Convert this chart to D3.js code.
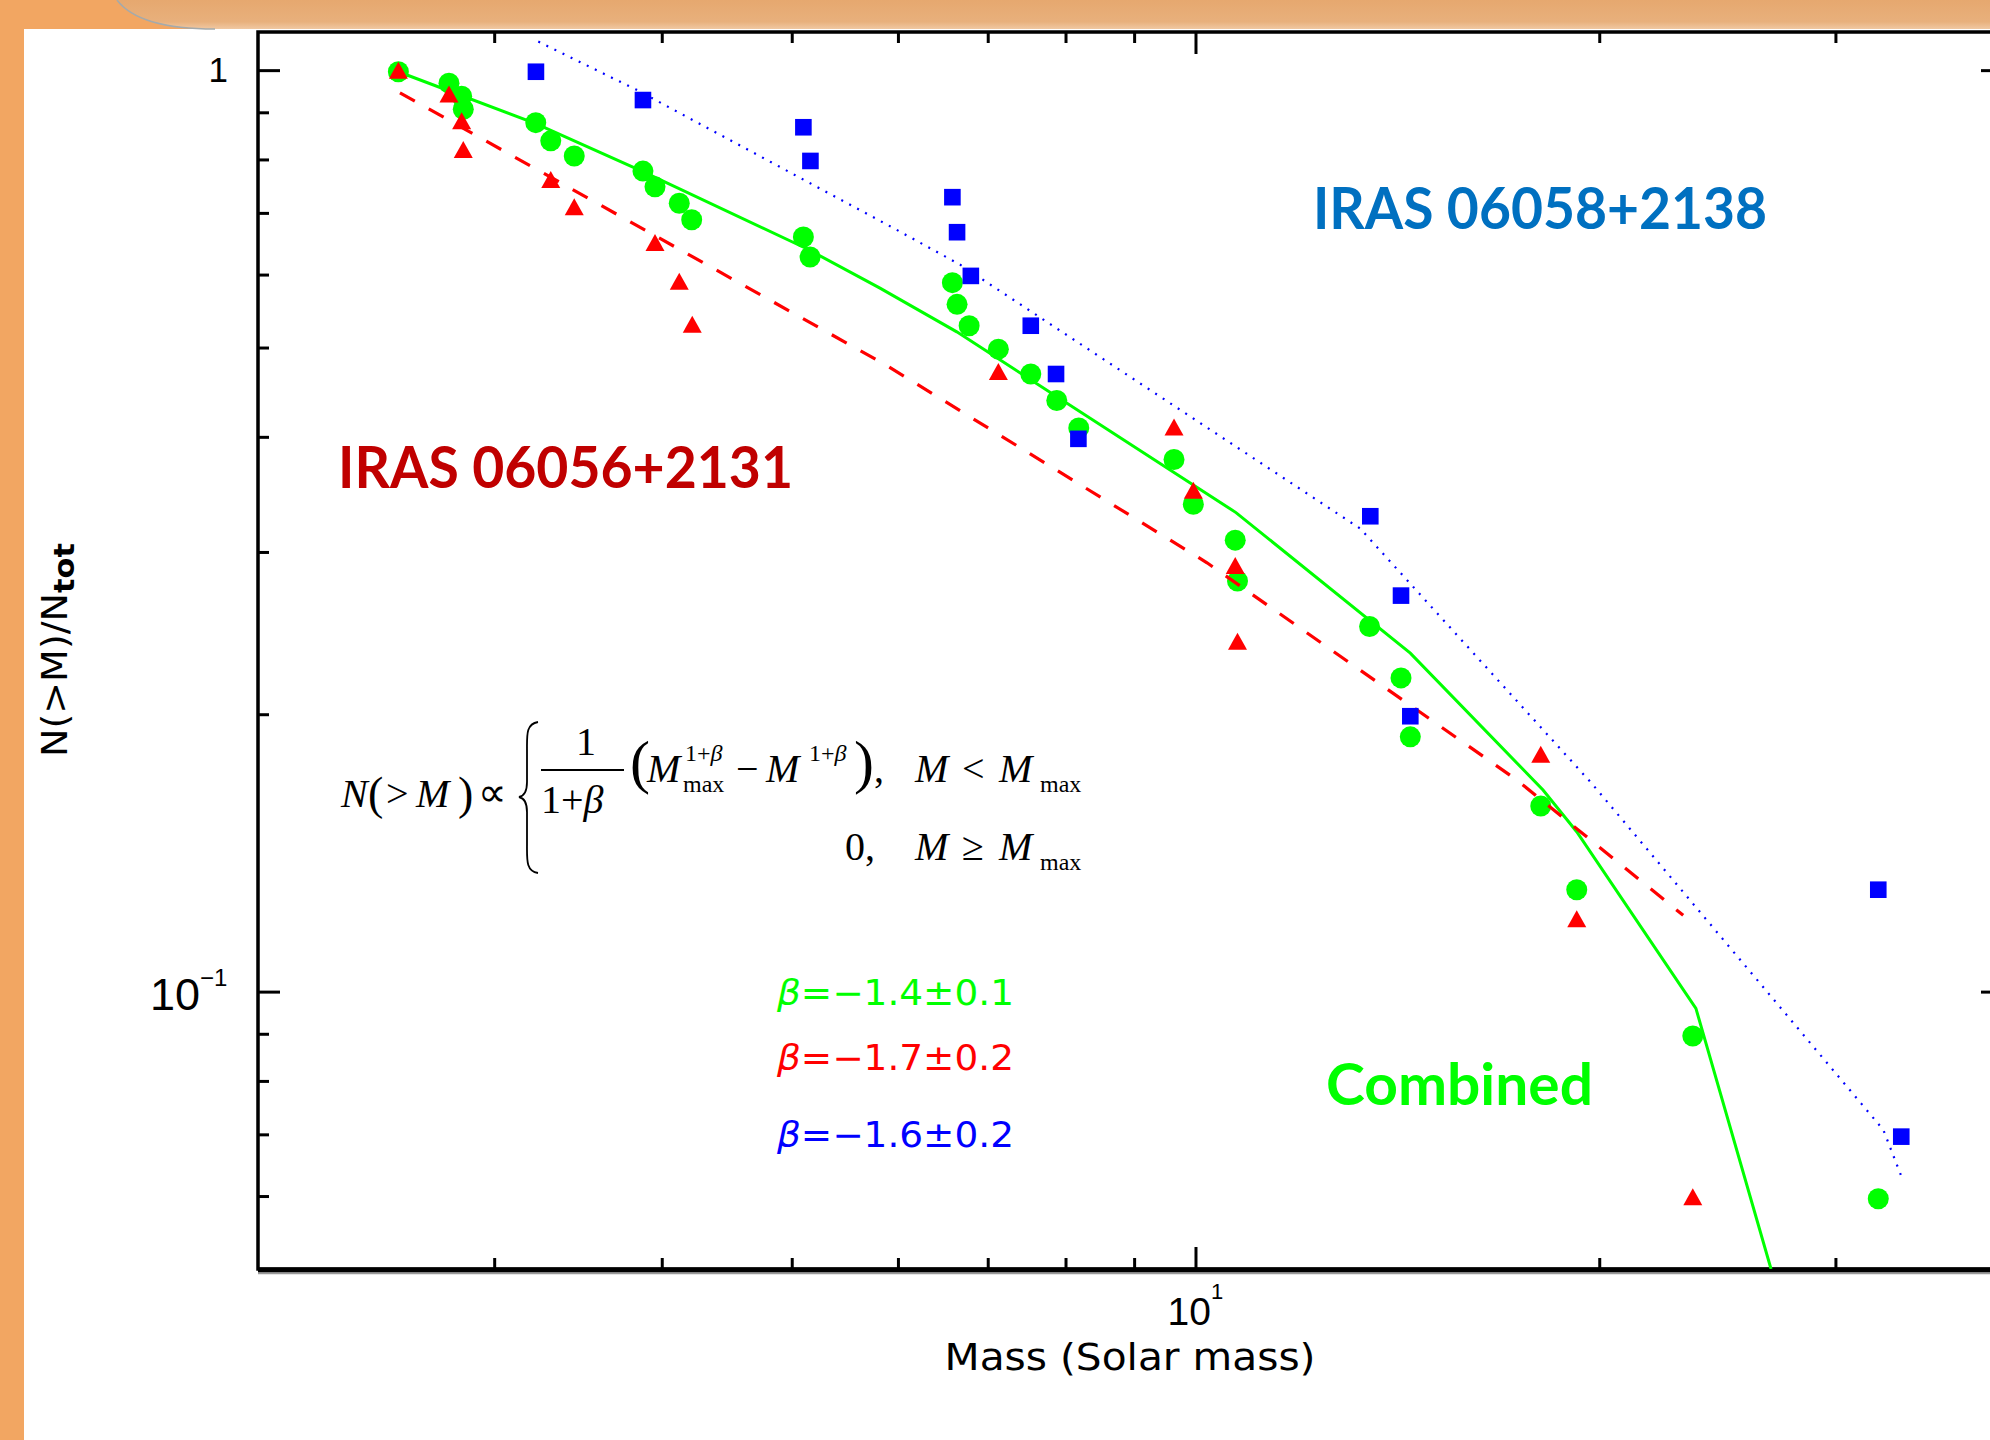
<!DOCTYPE html>
<html>
<head>
<meta charset="utf-8">
<script src="https://cdn.jsdelivr.net/npm/d3@7"></script>
<style>
  html, body { margin: 0; padding: 0; background: #fff; }
  svg { display: block; }
</style>
</head>
<body>
<svg id="chart"></svg>
<script>
const width = 1990, height = 1440;

// combined sample: cumulative fraction N(>M)/Ntot
const combinedMass = [2.545, 2.776, 2.837, 2.845, 3.222, 3.306, 3.442, 3.873, 3.954, 4.122, 4.211, 5.101, 5.160,
  6.588, 6.641, 6.780, 7.129, 7.537, 7.881, 8.184, 9.638, 9.963, 10.706, 10.748, 13.483, 14.231, 14.460,
  18.089, 19.242, 23.484, 32.29];
const combinedFrac = [0.996, 0.968, 0.937, 0.907, 0.877, 0.838, 0.807, 0.777, 0.747, 0.717, 0.688, 0.659, 0.627,
  0.588, 0.557, 0.528, 0.498, 0.468, 0.438, 0.409, 0.378, 0.338, 0.309, 0.279, 0.249, 0.219, 0.189,
  0.159, 0.129, 0.0895, 0.0596];

// IRAS 06056+2131 (triangles)
const iras06056Mass = [2.545, 2.776, 2.837, 2.845, 3.306, 3.442, 3.954, 4.122, 4.215, 7.129, 9.638, 9.963,
  10.706, 10.748, 18.089, 19.242, 23.484];
const iras06056Frac = [1.0, 0.942, 0.881, 0.820, 0.761, 0.711, 0.650, 0.590, 0.530, 0.471, 0.410, 0.350,
  0.290, 0.240, 0.181, 0.120, 0.0599];

// IRAS 06058+2138 (squares)
const iras06058Mass = [3.223, 3.873, 5.101, 5.163, 6.588, 6.641, 6.800, 7.537, 7.871, 8.179, 13.50, 14.231,
  14.460, 32.29, 33.59];
const iras06058Frac = [0.996, 0.928, 0.867, 0.797, 0.728, 0.667, 0.598, 0.528, 0.468, 0.398, 0.328, 0.269,
  0.199, 0.129, 0.0696];

// fitted curves
const combinedFitMass = [2.545, 3.222, 3.873, 5.131, 5.818, 6.638, 10.72, 14.46, 18.16, 19.24, 23.61, 26.86];
const combinedFitFrac = [0.996, 0.875, 0.776, 0.640, 0.580, 0.520, 0.331, 0.233, 0.1655, 0.1491, 0.0959, 0.05];
const iras06056FitMass = [2.552, 5.886, 10.20, 17.36, 23.1];
const iras06056FitFrac = [0.945, 0.478, 0.292, 0.1697, 0.121];
const iras06058FitMass = [3.236, 3.831, 5.953, 6.676, 13.27, 19.74, 32.57, 33.6];
const iras06058FitFrac = [1.074, 0.952, 0.674, 0.615, 0.318, 0.1683, 0.0708, 0.0630];

const betaText = ["=\u22121.4\u00b10.1", "=\u22121.7\u00b10.2", "=\u22121.6\u00b10.2"];
const betaColors = ["#00ff00", "#ff0000", "#0000ff"];

const yMajor = [0.1, 1];
const yMinor = [0.05, 0.06, 0.07, 0.08, 0.09, 0.2, 0.3, 0.4, 0.5, 0.6, 0.7, 0.8, 0.9];
const xMajor = [10];
const xMinor = [3, 4, 5, 6, 7, 8, 9, 20, 30];

const GREEN = "#00ff00", RED = "#ff0000", BLUE = "#0000ff";

const svg = d3.select("#chart").attr("width", width).attr("height", height);

// slide frame
const defs = svg.append("defs");
const hg = defs.append("linearGradient").attr("id", "hdr").attr("x1", 0).attr("y1", 0).attr("x2", 0).attr("y2", 1);
hg.append("stop").attr("offset", "0%").attr("stop-color", "#e6a86f");
hg.append("stop").attr("offset", "75%").attr("stop-color", "#e8b07c");
hg.append("stop").attr("offset", "100%").attr("stop-color", "#f0c8a2");
svg.append("rect").attr("width", width).attr("height", height).attr("fill", "#fff");
svg.append("rect").attr("x", 0).attr("y", 0).attr("width", 24).attr("height", height).attr("fill", "#f2a662");
svg.append("rect").attr("x", 0).attr("y", 0).attr("width", width).attr("height", 29).attr("fill", "#f2a662");
svg.append("path")
  .attr("d", "M117,0 C132,20 168,29 215,29 L1990,29 L1990,0 Z")
  .attr("fill", "url(#hdr)");
svg.append("path")
  .attr("d", "M117,0 C132,20 168,29 215,29")
  .attr("fill", "none").attr("stroke", "#a4aaac").attr("stroke-width", 1.5);

const x = d3.scaleLog().domain([2, 40]).range([258, 2003]);
const y = d3.scaleLog().domain([0.05, 1.1]).range([1269, 32]);

defs.append("clipPath").attr("id", "plot")
  .append("rect").attr("x", 258).attr("y", 32).attr("width", 1745).attr("height", 1237);

// ticks (inward on all four sides)
function ticks(axis, vals, size, transform) {
  svg.append("g").attr("transform", transform)
    .call(axis.tickValues(vals).tickSize(size).tickFormat(""))
    .call(g => g.select(".domain").remove())
    .call(g => g.selectAll("line").attr("stroke", "#000").attr("stroke-width", 3));
}
ticks(d3.axisLeft(y), yMajor, -22, "translate(258,0)");
ticks(d3.axisLeft(y), yMinor, -11, "translate(258,0)");
ticks(d3.axisRight(y), yMajor, -22, "translate(2003,0)");
ticks(d3.axisRight(y), yMinor, -11, "translate(2003,0)");
ticks(d3.axisTop(x), xMajor, -22, "translate(0,32)");
ticks(d3.axisTop(x), xMinor, -11, "translate(0,32)");
ticks(d3.axisBottom(x), xMajor, -22, "translate(0,1269)");
ticks(d3.axisBottom(x), xMinor, -11, "translate(0,1269)");

// frame
svg.append("rect").attr("x", 258).attr("y", 32).attr("width", 1745).attr("height", 1237)
  .attr("fill", "none").attr("stroke", "#000").attr("stroke-width", 3.5);
svg.append("line").attr("x1", 258).attr("x2", 2003).attr("y1", 1270).attr("y2", 1270)
  .attr("stroke", "#000").attr("stroke-width", 5);
svg.append("line").attr("x1", 258).attr("x2", 2003).attr("y1", 1273.5).attr("y2", 1273.5)
  .attr("stroke", "#999").attr("stroke-width", 1.5);

// tick labels
const tickFont = "'DejaVu Sans', sans-serif";
const numFont = "'Liberation Sans', Arial, sans-serif";
svg.append("text").attr("x", 228).attr("y", y(1) + 12).attr("text-anchor", "end")
  .attr("font-family", numFont).attr("font-size", 35).text("1");
const tenth = svg.append("text").attr("x", 150).attr("y", y(0.1) + 18)
  .attr("font-family", numFont).attr("font-size", 45);
tenth.append("tspan").text("10");
tenth.append("tspan").attr("dy", -24).attr("font-size", 24).text("\u22121");
const ten = svg.append("text").attr("x", x(10) - 28).attr("y", 1325)
  .attr("font-family", numFont).attr("font-size", 39);
ten.append("tspan").text("10");
ten.append("tspan").attr("dy", -26).attr("font-size", 22).text("1");

// axis titles
svg.append("text").attr("x", 1130).attr("y", 1370).attr("text-anchor", "middle")
  .attr("font-family", tickFont).attr("font-size", 38).attr("textLength", 371)
  .attr("lengthAdjust", "spacingAndGlyphs").text("Mass (Solar mass)");
const yt = svg.append("text").attr("transform", "translate(67,650) rotate(-90)")
  .attr("text-anchor", "middle").attr("font-family", tickFont).attr("font-size", 35)
  .attr("textLength", 214).attr("lengthAdjust", "spacingAndGlyphs");
yt.append("tspan").text("N(>M)/N");
yt.append("tspan").attr("dy", 7).attr("font-weight", "bold").attr("font-size", 28).text("tot");

// data
const plot = svg.append("g").attr("clip-path", "url(#plot)");
const line = d3.line().x(d => x(d[0])).y(d => y(d[1]));

plot.selectAll("circle.comb").data(d3.zip(combinedMass, combinedFrac)).enter()
  .append("circle").attr("class", "comb")
  .attr("cx", d => x(d[0])).attr("cy", d => y(d[1])).attr("r", 10.5).attr("fill", GREEN);

plot.append("path").datum(d3.zip(combinedFitMass, combinedFitFrac)).attr("d", line)
  .attr("fill", "none").attr("stroke", GREEN).attr("stroke-width", 3);
plot.append("path").datum(d3.zip(iras06056FitMass, iras06056FitFrac)).attr("d", line)
  .attr("fill", "none").attr("stroke", RED).attr("stroke-width", 3.2).attr("stroke-dasharray", "17,16");
plot.append("path").datum(d3.zip(iras06058FitMass, iras06058FitFrac)).attr("d", line)
  .attr("fill", "none").attr("stroke", BLUE).attr("stroke-width", 2.2).attr("stroke-dasharray", "2,7");

plot.selectAll("path.tri").data(d3.zip(iras06056Mass, iras06056Frac)).enter()
  .append("path").attr("class", "tri")
  .attr("transform", d => `translate(${x(d[0])},${y(d[1])})`)
  .attr("d", "M0,-8.5L9.5,8.5L-9.5,8.5Z").attr("fill", RED);

plot.selectAll("rect.sq").data(d3.zip(iras06058Mass, iras06058Frac)).enter()
  .append("rect").attr("class", "sq")
  .attr("x", d => x(d[0]) - 8.3).attr("y", d => y(d[1]) - 8.3)
  .attr("width", 16.6).attr("height", 16.6).attr("fill", BLUE);

// region labels
const labelFont = "Lato, 'Open Sans', sans-serif";
function label(txt, px, py, len, color) {
  svg.append("text").attr("x", px).attr("y", py).attr("font-family", labelFont)
    .attr("font-weight", "bold").attr("font-size", 57).attr("fill", color)
    .attr("textLength", len).attr("lengthAdjust", "spacingAndGlyphs").text(txt);
}
label("IRAS 06058+2138", 1313, 229, 454, "#0070c0");
label("IRAS 06056+2131", 338, 488, 455, "#c00000");
label("Combined", 1326, 1105, 267, GREEN);

// slopes
betaText.forEach((t, i) => {
  const tx = svg.append("text").attr("x", 777).attr("y", [1005, 1070, 1147][i])
    .attr("font-family", tickFont).attr("font-size", 35).attr("fill", betaColors[i])
    .attr("textLength", 237).attr("lengthAdjust", "spacingAndGlyphs");
  tx.append("tspan").attr("font-style", "italic").text("\u03b2");
  tx.append("tspan").text(t);
});

// formula
const serif = "'Liberation Serif', 'Times New Roman', serif";
const eq = svg.append("g").attr("font-family", serif).attr("fill", "#000");
function et(txt, px, py, size, italic) {
  return eq.append("text").attr("x", px).attr("y", py).attr("font-size", size)
    .attr("font-style", italic ? "italic" : "normal").text(txt);
}
et("N", 341, 807, 40, true);
et("(", 368, 809, 46);
et(">", 386, 807, 40);
et("M", 416, 807, 40, true);
et(")", 458, 809, 46);
et("\u221d", 478, 806, 40);
eq.append("path")
  .attr("d", "M538,722 C526,724 527,735 527,750 L527,782 C527,792 524,796 519,797 C524,798 527,802 527,812 L527,845 C527,860 526,871 538,873")
  .attr("fill", "none").attr("stroke", "#000").attr("stroke-width", 1.8);
et("1", 576, 755, 40);
eq.append("line").attr("x1", 541).attr("x2", 624).attr("y1", 770).attr("y2", 770)
  .attr("stroke", "#000").attr("stroke-width", 2);
const den = eq.append("text").attr("x", 541).attr("y", 813).attr("font-size", 40);
den.append("tspan").text("1+");
den.append("tspan").attr("font-style", "italic").text("\u03b2");
et("(", 630, 782, 60);
et("M", 647, 782, 40, true);
function supb(px, py) {
  const s = eq.append("text").attr("x", px).attr("y", py).attr("font-size", 24);
  s.append("tspan").text("1+");
  s.append("tspan").attr("font-style", "italic").text("\u03b2");
}
supb(685, 761);
et("max", 683, 792, 24);
et("\u2212", 736, 782, 40);
et("M", 766, 782, 40, true);
supb(809, 761);
const close = et(")", 854, 782, 60);
close.append("tspan").attr("font-size", 40).text(",");
et("M", 915, 782, 40, true);
et("<", 962, 782, 40);
et("M", 999, 782, 40, true);
et("max", 1040, 792, 24);
et("0,", 845, 860, 40);
et("M", 915, 860, 40, true);
et("\u2265", 962, 860, 40);
et("M", 999, 860, 40, true);
et("max", 1040, 870, 24);
</script>
</body>
</html>
